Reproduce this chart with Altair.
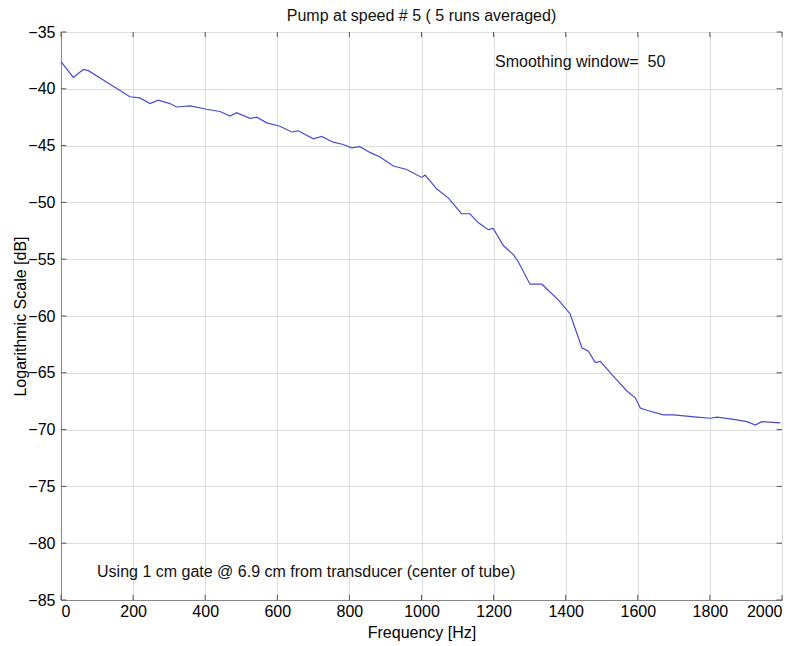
import altair as alt
import pandas as pd

# ---- data ----
freq = [0, 34, 62, 76, 136, 191, 219, 247, 270, 302, 321, 358, 404, 441, 469, 487,
        524, 543, 571, 607, 640, 658, 700, 723, 755, 783, 806, 829, 857, 885, 922,
        959, 1000, 1010, 1042, 1074, 1111, 1134, 1158, 1185, 1199, 1227, 1255, 1268,
        1301, 1334, 1380, 1412, 1445, 1463, 1482, 1496, 1532, 1570, 1593, 1607, 1625,
        1671, 1699, 1764, 1801, 1820, 1866, 1903, 1926, 1944, 1995]
db = [-37.6, -39.0, -38.3, -38.4, -39.6, -40.7, -40.8, -41.3, -41.0, -41.3, -41.6,
      -41.5, -41.8, -42.0, -42.4, -42.1, -42.6, -42.5, -43.0, -43.3, -43.8, -43.7,
      -44.4, -44.2, -44.7, -44.9, -45.2, -45.1, -45.6, -46.0, -46.8, -47.1, -47.8,
      -47.6, -48.8, -49.6, -51.0, -51.0, -51.8, -52.4, -52.3, -53.8, -54.6, -55.2,
      -57.2, -57.2, -58.6, -59.8, -62.8, -63.1, -64.1, -64.0, -65.3, -66.6, -67.2,
      -68.1, -68.3, -68.7, -68.7, -68.9, -69.0, -68.9, -69.1, -69.3, -69.6, -69.3,
      -69.4]

x_ticks = [0, 200, 400, 600, 800, 1000, 1200, 1400, 1600, 1800, 2000]
y_ticks = [-35, -40, -45, -50, -55, -60, -65, -70, -75, -80, -85]

title_text = "Pump at speed # 5 ( 5 runs averaged)"
x_title = "Frequency [Hz]"
y_title = "Logarithmic Scale [dB]"
note_top = "Smoothing window=\u00a0 50"
note_top_pos = (1204, -37.65)
note_bottom = "Using 1 cm gate @ 6.9 cm from transducer (center of tube)"
note_bottom_pos = (100, -82.5)

FONT = "Liberation Sans"
FS = 16

df = pd.DataFrame({"freq": freq, "db": db})
xt = pd.DataFrame({"v": x_ticks})
yt = pd.DataFrame({"v": y_ticks})

xscale = alt.Scale(domain=[0, 2000], nice=False, zero=False)
yscale = alt.Scale(domain=[-85, -35], nice=False, zero=False)

xaxis = alt.Axis(values=x_ticks, title=x_title, grid=True, ticks=False,
                 labelPadding=3, titlePadding=5, format="d",
                 titleFontWeight="normal", labelFontSize=FS, titleFontSize=FS)
yaxis = alt.Axis(values=y_ticks, title=y_title, grid=True, ticks=False,
                 labelPadding=6, titlePadding=-1, format="d",
                 titleFontWeight="normal", labelFontSize=FS, titleFontSize=FS)

line = alt.Chart(df).mark_line(color="#4a4ad2", strokeWidth=1.2).encode(
    x=alt.X("freq:Q", scale=xscale, axis=xaxis),
    y=alt.Y("db:Q", scale=yscale, axis=yaxis),
)

tk = dict(color="#555555", strokeWidth=1)
left_ticks = alt.Chart(yt).mark_rule(**tk).encode(
    y=alt.Y("v:Q", scale=yscale), x=alt.datum(0, scale=xscale), x2=alt.datum(15))
right_ticks = alt.Chart(yt).mark_rule(**tk).encode(
    y=alt.Y("v:Q", scale=yscale), x=alt.datum(1985, scale=xscale), x2=alt.datum(2000))
bottom_ticks = alt.Chart(xt).mark_rule(**tk).encode(
    x=alt.X("v:Q", scale=xscale), y=alt.datum(-85, scale=yscale), y2=alt.datum(-84.55))
top_ticks = alt.Chart(xt).mark_rule(**tk).encode(
    x=alt.X("v:Q", scale=xscale), y=alt.datum(-35.45, scale=yscale), y2=alt.datum(-35))

notes = pd.DataFrame({
    "x": [note_top_pos[0], note_bottom_pos[0]],
    "y": [note_top_pos[1], note_bottom_pos[1]],
    "t": [note_top, note_bottom],
})
text = alt.Chart(notes).mark_text(align="left", baseline="middle", font=FONT,
                                  fontSize=FS, color="#111111").encode(
    x=alt.X("x:Q", scale=xscale), y=alt.Y("y:Q", scale=yscale), text="t:N")

chart = alt.layer(line, left_ticks, right_ticks, bottom_ticks, top_ticks, text).properties(
    width=721, height=568,
    title=alt.TitleParams(title_text, anchor="middle", fontSize=FS, font=FONT,
                          fontWeight="normal", offset=0, color="#111111", frame="group"),
    autosize=alt.AutoSizeParams(type="none"),
    padding={"left": 53, "top": 24, "right": 11, "bottom": 42},
).configure_view(
    stroke="#555555", strokeWidth=1
).configure_axis(
    labelFont=FONT, titleFont=FONT,
    labelColor="#111111", titleColor="#111111",
    domainColor="#555555", gridColor="#9a9a9a", gridDash=[1, 3], gridWidth=1,
    gridOpacity=1,
).configure(background="white")

chart.save("out.html", embed_options={"renderer": "svg", "actions": False})
